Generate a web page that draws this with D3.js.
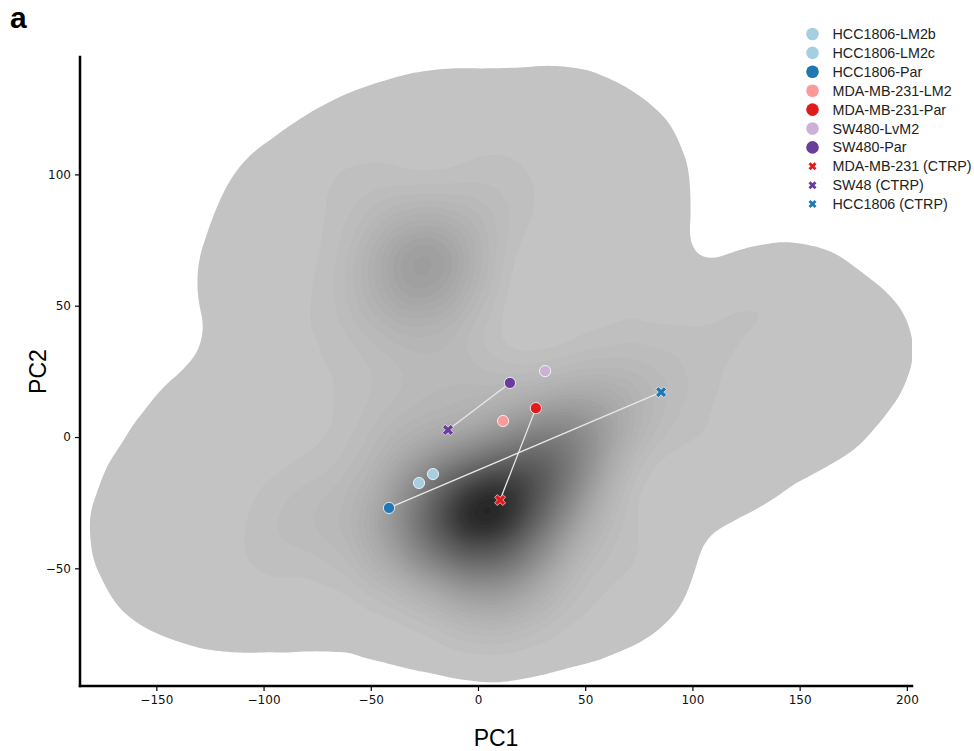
<!DOCTYPE html>
<html>
<head>
<meta charset="utf-8">
<script src="https://cdn.jsdelivr.net/npm/d3@7"></script>
<style>
  body { margin: 0; background: #fff; }
</style>
</head>
<body>
<div id="container"></div>
<script>
let w = 974;
let h = 751;
let plotLeft = 80, plotRight = 912, plotTop = 57, plotBottom = 686;

// measured cell lines
let lineNames = ["HCC1806-LM2b", "HCC1806-LM2c", "HCC1806-Par", "MDA-MB-231-LM2", "MDA-MB-231-Par", "SW480-LvM2", "SW480-Par"];
let lineColors = ["#a6cee3", "#a6cee3", "#1f78b4", "#fb9a99", "#e31a1c", "#cab2d6", "#6a3d9a"];
let linePC1 = [-27.5, -21.0, -41.5, 11.7, 27.0, 31.3, 14.9];
let linePC2 = [-17.5, -14.1, -27.0, 6.1, 11.0, 25.1, 20.6];

// CTRP profiles of the parental lines
let ctrpNames = ["MDA-MB-231 (CTRP)", "SW48 (CTRP)", "HCC1806 (CTRP)"];
let ctrpColors = ["#e31a1c", "#6a3d9a", "#1f78b4"];
let ctrpPC1 = [10.3, -14.0, 85.4];
let ctrpPC2 = [-24.0, 2.7, 17.1];
let ctrpPartner = ["MDA-MB-231-Par", "SW480-Par", "HCC1806-Par"];

// background CTRP population, estimated from the density (PC1, PC2, weight)
let bgPC1 = [
  // main cluster
  5, -8, 18, 30, -18, 8, -5, 42, 25, -28, 55, -2, -40, 70, 20, -35, 40,
  // left arm
  -60, -85, -110, -70,
  // upper cluster
  -25, -40, -12, -35, -5, -25, -50, -60, 0,
  // bridge
  -15, 5, -40, 20, 40, 80, 105,
  // sparse outskirts
  -100, -108, -98, -78, -52, -22,
  8, 40, 65, 74, 72, 50, 30,
  130, 155, 178, 174, 158, 128, 105, 120,
  78, 70, 45, 15, 55,
  -40, -80, -115, -145, -158, -152, -138, -122, -110, -80, -95, -70,
  -75, -50, 10, 85, 100, 60, -15, 0];
let bgPC2 = [
  -26, -32, -20, -10, -38, -42, -14, -2, -36, -24, 5, -56, -42, 12, -55, -5, -25,
  -30, -35, -40, -10,
  65, 58, 75, 80, 55, 42, 40, 70, 85,
  20, 15, 15, 5, 25, 25, 28,
  35, 60, 85, 100, 113, 120,
  120, 122, 112, 95, 72, 70, 90,
  52, 53, 38, 26, 8, -4, -15, 40,
  -40, -58, -66, -70, -30,
  -67, -63, -63, -56, -38, -20, -5, 10, -15, -30, 10, 20,
  50, 90, 95, 45, 10, 40, -64, -72];
let bgWeight = [
  7, 5, 5, 5, 4, 4, 4, 3.5, 3, 3, 2, 2, 2, 1.2, 1.5, 1.5, 2,
  0.8, 0.6, 0.4, 0.5,
  3, 1.5, 1.2, 1, 1, 1, 0.6, 0.5, 0.6,
  1, 1, 0.6, 1, 0.6, 0.5, 0.4,
  0.4, 0.4, 0.4, 0.4, 0.4, 0.4,
  0.4, 0.4, 0.4, 0.4, 0.4, 0.3, 0.35,
  0.4, 0.4, 0.35, 0.35, 0.4, 0.4, 0.4, 0.4,
  0.4, 0.4, 0.4, 0.4, 0.4,
  0.4, 0.4, 0.4, 0.4, 0.35, 0.3, 0.35, 0.4, 0.3, 0.4, 0.3, 0.4,
  0.4, 0.4, 0.4, 0.3, 0.4, 0.4, 0.3, 0.3];

let xTicks = [-150, -100, -50, 0, 50, 100, 150, 200];
let yTicks = [-50, 0, 50, 100];

let levelFracs = [0.008].concat(d3.range(0.038, 1.0, 0.02));

let xScale = d3.scaleLinear().domain([-185.6, 202.4]).range([plotLeft, plotRight]);
let yScale = d3.scaleLinear().domain([-94.8, 144.7]).range([plotBottom, plotTop]);

let viz = d3.select("#container")
  .append("svg")
    .attr("width", w)
    .attr("height", h)
    .style("background-color", "white");

viz.append("clipPath").attr("id", "plotclip")
  .append("rect")
    .attr("x", plotLeft).attr("y", plotTop)
    .attr("width", plotRight - plotLeft).attr("height", plotBottom - plotTop);

// density background
let bg = bgPC1.map((v, i) => ({x: v, y: bgPC2[i], w: bgWeight[i]}));

let density = d3.contourDensity()
  .x(d => xScale(d.x) - plotLeft)
  .y(d => yScale(d.y) - plotTop)
  .weight(d => d.w)
  .size([plotRight - plotLeft, plotBottom - plotTop])
  .cellSize(4)
  .bandwidth(32)
  .thresholds(values => {
    let mx = d3.max(values) / 16;
    return levelFracs.map(f => f * mx);
  });

let contours = density(bg);

viz.append("g")
  .attr("clip-path", "url(#plotclip)")
  .append("g")
    .attr("transform", "translate(" + plotLeft + "," + plotTop + ")")
  .selectAll("path")
  .data(contours)
  .enter()
  .append("path")
    .attr("d", d3.geoPath())
    .attr("fill", (d, i) => d3.interpolateGreys(0.34 + 0.54 * levelFracs[i]))
    .attr("stroke", "none");

// connecting lines
let parIndex = ctrpPartner.map(n => lineNames.indexOf(n));
viz.append("g").selectAll("line")
  .data(ctrpNames)
  .enter()
  .append("line")
    .attr("x1", (d, i) => xScale(ctrpPC1[i]))
    .attr("y1", (d, i) => yScale(ctrpPC2[i]))
    .attr("x2", (d, i) => xScale(linePC1[parIndex[i]]))
    .attr("y2", (d, i) => yScale(linePC2[parIndex[i]]))
    .attr("stroke", "#e8e8e8")
    .attr("stroke-width", 1.3);

// cell line points
viz.append("g").selectAll("circle")
  .data(lineNames)
  .enter()
  .append("circle")
    .attr("cx", (d, i) => xScale(linePC1[i]))
    .attr("cy", (d, i) => yScale(linePC2[i]))
    .attr("r", 5.6)
    .attr("fill", (d, i) => lineColors[i])
    .attr("stroke", "white")
    .attr("stroke-width", 0.8);

let xMark = d3.symbol().type(d3.symbolCross).size(75);
viz.append("g").selectAll("path")
  .data(ctrpNames)
  .enter()
  .append("path")
    .attr("d", xMark)
    .attr("transform", (d, i) => "translate(" + xScale(ctrpPC1[i]) + "," + yScale(ctrpPC2[i]) + ") rotate(45)")
    .attr("fill", (d, i) => ctrpColors[i])
    .attr("stroke", "white")
    .attr("stroke-width", 0.6);

// axes
let xAxis = d3.axisBottom(xScale).tickValues(xTicks).tickSize(5).tickPadding(4);
let yAxis = d3.axisLeft(yScale).tickValues(yTicks).tickSize(5).tickPadding(4);

let gx = viz.append("g")
  .attr("transform", "translate(0," + plotBottom + ")")
  .call(xAxis);
let gy = viz.append("g")
  .attr("transform", "translate(" + plotLeft + ",0)")
  .call(yAxis);

[gx, gy].forEach(g => {
  g.select(".domain").remove();
  g.selectAll(".tick line").attr("stroke", "black").attr("stroke-width", 1.2);
  g.selectAll(".tick text")
    .style("font-family", "DejaVu Sans")
    .style("font-size", "12px")
    .attr("fill", "#111");
});

viz.append("line")
  .attr("x1", plotLeft).attr("x2", plotRight)
  .attr("y1", plotBottom).attr("y2", plotBottom)
  .attr("stroke", "black").attr("stroke-width", 2.5)
  .attr("stroke-linecap", "square");
viz.append("line")
  .attr("x1", plotLeft).attr("x2", plotLeft)
  .attr("y1", plotTop).attr("y2", plotBottom)
  .attr("stroke", "black").attr("stroke-width", 2.5)
  .attr("stroke-linecap", "square");

// axis titles
viz.append("text")
  .text("PC1")
  .attr("x", (plotLeft + plotRight) / 2)
  .attr("y", 746)
  .attr("text-anchor", "middle")
  .style("font-family", "Liberation Sans, Arial, sans-serif")
  .style("font-size", "23px");

viz.append("text")
  .text("PC2")
  .attr("transform", "translate(46," + ((plotTop + plotBottom) / 2) + ") rotate(-90)")
  .attr("text-anchor", "middle")
  .style("font-family", "Liberation Sans, Arial, sans-serif")
  .style("font-size", "23px");

viz.append("text")
  .text("a")
  .attr("x", 10)
  .attr("y", 28)
  .style("font-family", "Liberation Sans, Arial, sans-serif")
  .style("font-weight", "bold")
  .style("font-size", "30px");

// legend
let legendItems = lineNames.map((n, i) => ({name: n, color: lineColors[i], shape: "circle"}))
  .concat(ctrpNames.map((n, i) => ({name: n, color: ctrpColors[i], shape: "x"})));

let legend = viz.append("g").selectAll("g")
  .data(legendItems)
  .enter()
  .append("g")
    .attr("transform", (d, i) => "translate(812.5," + (34 + i * 18.9) + ")");

legend.filter(d => d.shape === "circle").append("circle")
  .attr("r", 6.3)
  .attr("fill", d => d.color);
legend.filter(d => d.shape === "x").append("path")
  .attr("d", d3.symbol().type(d3.symbolCross).size(40))
  .attr("transform", "rotate(45)")
  .attr("fill", d => d.color);

legend.append("text")
  .text(d => d.name)
  .attr("x", 20)
  .attr("y", 5)
  .style("font-family", "Liberation Sans, Arial, sans-serif")
  .style("font-size", "14.3px")
  .attr("fill", "#222");
</script>
</body>
</html>
